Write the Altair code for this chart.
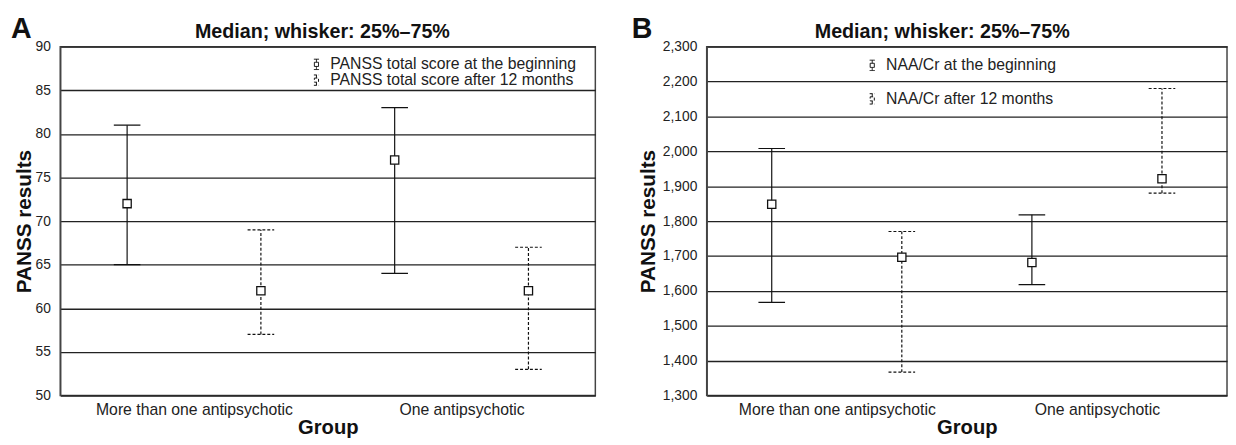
import altair as alt
import pandas as pd

groups = ["More than one antipsychotic", "One antipsychotic"]

series_a = ["PANSS total score at the beginning", "PANSS total score after 12 months"]
median_a = [72, 62, 77, 62]
q1_a = [65, 57, 64, 53]
q3_a = [81, 69, 83, 67]
ticks_a = [50, 55, 60, 65, 70, 75, 80, 85, 90]

series_b = ["NAA/Cr at the beginning", "NAA/Cr after 12 months"]
median_b = [1848, 1696, 1681, 1921]
q1_b = [1567, 1367, 1618, 1880]
q3_b = [2008, 1770, 1818, 2180]
ticks_b = [1300, 1400, 1500, 1600, 1700, 1800, 1900, 2000, 2100, 2200, 2300]

FONT = "Liberation Sans"
LEGEND_GLYPH = "M-0.5,-1H0.5M0,-1V-0.4M-0.4,-0.4H0.4V0.4H-0.4ZM0,0.4V1M-0.5,1H0.5"


def make_df(series, med, lo, hi):
    rows = []
    i = 0
    for gi, g in enumerate(groups):
        for si, s in enumerate(series):
            rows.append({"group": g, "series": s, "slot": gi * 2 + si + 0.5,
                         "median": med[i], "q1": lo[i], "q3": hi[i]})
            i += 1
    return pd.DataFrame(rows)


def panel(series, med, lo, hi, ticks, fmt, letter, width, lx, ly, rowpad, letter_x,
          title_x, ytitle_pad):
    df = make_df(series, med, lo, hi)
    base = alt.Chart(df)
    label_expr = "datum.value == 1 ? '%s' : datum.value == 3 ? '%s' : ''" % (groups[0], groups[1])
    x = alt.X("slot:Q", scale=alt.Scale(domain=[0, 4], nice=False, zero=False),
              axis=alt.Axis(title="Group", values=[1, 3], labelExpr=label_expr,
                            grid=False, ticks=False, domain=False, labelLimit=500,
                            labelFontSize=16, labelPadding=6, labelColor="#222",
                            titleFontSize=20.5, titleFontWeight="bold", titlePadding=1,
                            titleColor="#111"))
    yscale = alt.Scale(domain=[ticks[0], ticks[-1]], nice=False, zero=False)
    yaxis = alt.Axis(title="PANSS results", values=ticks, tickCount=len(ticks), format=fmt,
                     ticks=False, labelOverlap=False,
                     grid=True, gridColor="#222", gridWidth=1.3,
                     domainColor="#444", domainWidth=1.5,
                     labelFontSize=14, labelPadding=10, labelColor="#222",
                     titleFontSize=21, titleFontWeight="bold", titlePadding=ytitle_pad,
                     titleColor="#111")
    dash = alt.StrokeDash("series:N", sort=series,
                          scale=alt.Scale(domain=series, range=[[1, 0], [3, 2]]),
                          legend=alt.Legend(title=None, orient="none", legendX=lx, legendY=ly,
                                            symbolType=LEGEND_GLYPH, symbolSize=110,
                                            symbolStrokeColor="#111", symbolFillColor="white",
                                            symbolStrokeWidth=1, labelFontSize=16,
                                            labelLimit=400,
                                            labelColor="#222", labelOffset=6, rowPadding=rowpad))
    rule = base.mark_rule(color="#111", strokeWidth=1.2).encode(
        x=x, y=alt.Y("q1:Q", scale=yscale, axis=yaxis), y2="q3:Q", strokeDash=dash)
    cap_lo = base.mark_point(shape="M-1,0H1", size=729, filled=False, color="#111",
                             strokeWidth=1.2, opacity=1).encode(
        x=x, y=alt.Y("q1:Q"), strokeDash=dash)
    cap_hi = base.mark_point(shape="M-1,0H1", size=729, filled=False, color="#111",
                             strokeWidth=1.2, opacity=1).encode(
        x=x, y=alt.Y("q3:Q"), strokeDash=dash)
    med_pt = base.mark_point(shape="square", size=70, filled=True, fill="white",
                             stroke="#111", strokeWidth=1.3, opacity=1).encode(
        x=x, y=alt.Y("median:Q"))
    lab = alt.Chart(pd.DataFrame({"t": [letter]})).mark_text(
        fontSize=29, fontWeight="bold", align="left", baseline="alphabetic", color="#111"
    ).encode(text="t:N", x=alt.value(letter_x), y=alt.value(-9))
    ttl = alt.Chart(pd.DataFrame({"t": ["Median; whisker: 25%–75%"]})).mark_text(
        fontSize=20, fontWeight="bold", align="center", baseline="alphabetic", color="#111"
    ).encode(text="t:N", x=alt.value(title_x), y=alt.value(-9))
    return alt.layer(rule, cap_lo, cap_hi, med_pt, lab, ttl).properties(width=width, height=354)


pa = panel(series_a, median_a, q1_a, q3_a, ticks_a, "d", "A", 543, 252, 10, 0, -50, 266, 1)
pb = panel(series_b, median_b, q1_b, q3_b, ticks_b, ",d", "B", 528, 160, 11, 18, -76, 239, 4)

chart = alt.hconcat(pa, pb, spacing=35).resolve_scale(
    strokeDash="independent"
).resolve_legend(strokeDash="independent").properties(
    padding={"left": 2, "top": 3, "right": 0, "bottom": 0}
).configure(font=FONT).configure_view(stroke="#444", strokeWidth=1.5)

chart.save("out.html", embed_options={"renderer": "svg", "actions": False})
